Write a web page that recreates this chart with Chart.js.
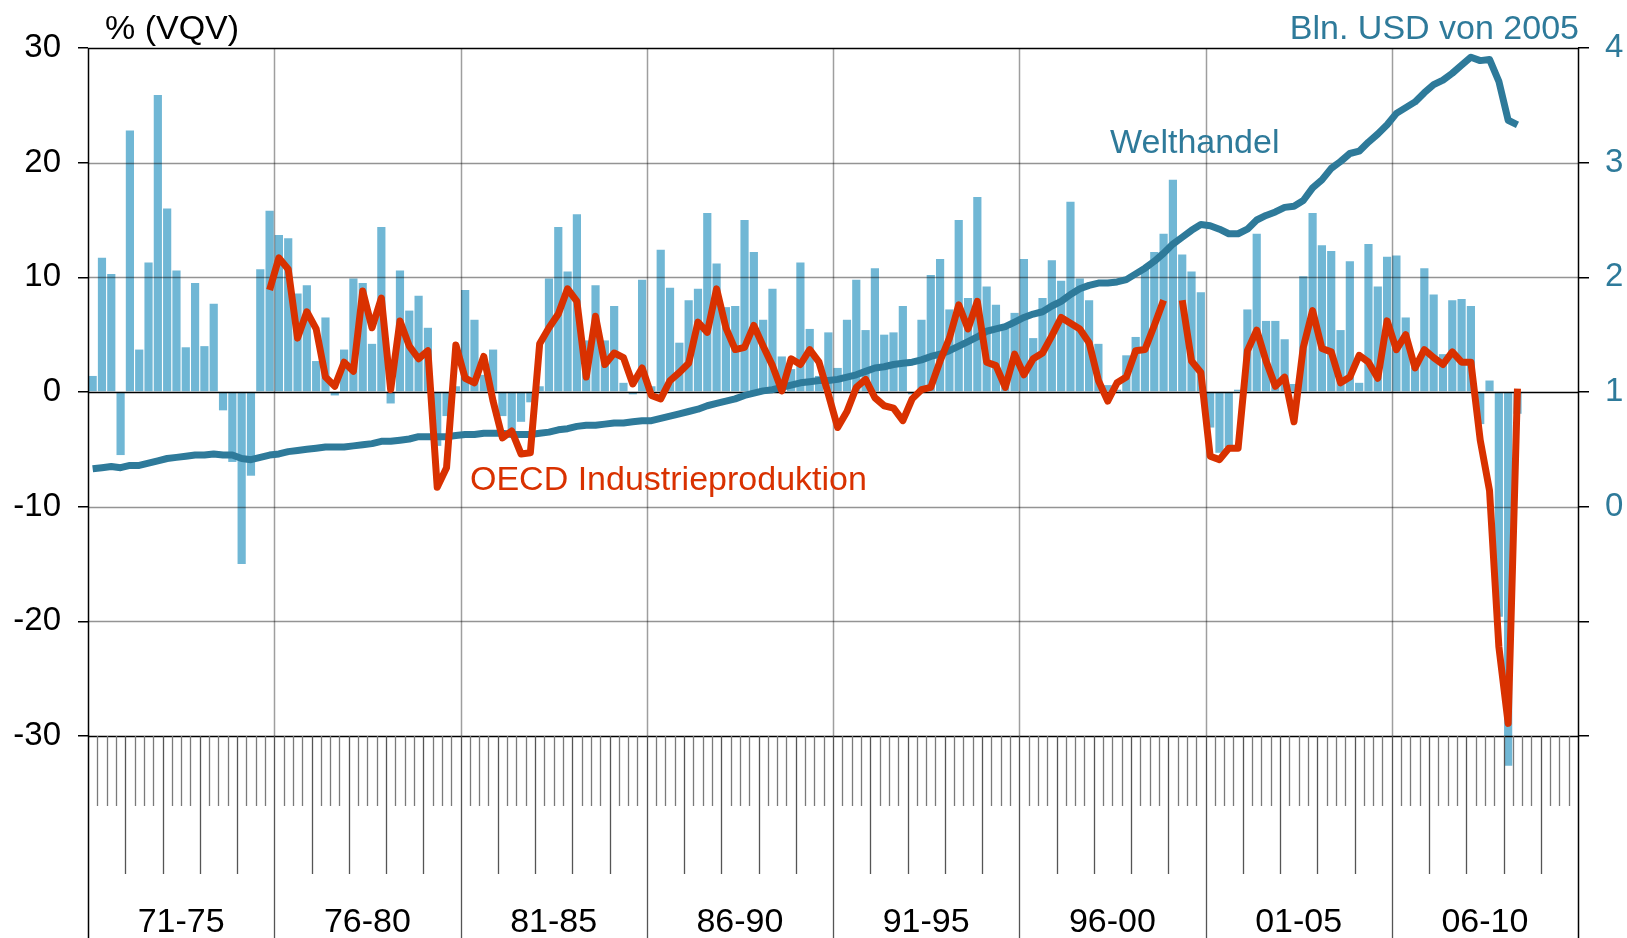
<!DOCTYPE html>
<html>
<head>
<meta charset="utf-8">
<script src="https://cdn.jsdelivr.net/npm/chart.js@4.4.1/dist/chart.umd.min.js"></script>
<style>
  html, body { margin: 0; padding: 0; background: #fff; }
  #wrap { width: 1627px; height: 938px; }
</style>
</head>
<body>
<div id="wrap"><canvas id="chart" width="1627" height="938"></canvas></div>
<script>
// Zeitraum-Beschriftung (je 5 Jahre = 20 Quartale)
const periodLabels = ["71-75", "76-80", "81-85", "86-90", "91-95", "96-00", "01-05", "06-10"];
const firstYear = 1971;
const yTicks = [30, 20, 10, 0, -10, -20, -30];

// Welthandel, % VQV (Balken)
const welthandelVqv = [
  1.4, 11.7, 10.3, -5.5, 22.8, 3.7, 11.3, 25.9, 16.0, 10.6, 3.9, 9.5, 4.0, 7.7, -1.6, -6.1, -15.0, -7.3, 10.7, 15.8,
  13.7, 13.4, 8.6, 9.3, 2.7, 6.5, -0.3, 3.7, 9.9, 9.5, 4.2, 14.4, -1.0, 10.6, 7.1, 8.4, 5.6, -4.7, -2.1, 0.5,
  8.9, 6.3, 1.5, 3.7, -2.1, -3.6, -2.6, -0.9, 0.5, 9.9, 14.4, 10.5, 15.5, 4.5, 9.3, 4.5, 7.5, 0.8, -0.2, 9.8,
  0.5, 12.4, 9.1, 4.3, 8.0, 9.0, 15.6, 11.2, 7.4, 7.5, 15.0, 12.2, 6.3, 9.0, 3.1, 2.0, 11.3, 5.5, 1.4, 5.2,
  2.1, 6.3, 9.8, 5.4, 10.8, 5.0, 5.2, 7.5, -0.2, 6.3, 10.2, 11.6, 7.2, 15.0, 8.2, 17.0, 9.2, 7.6, 5.5, 6.9,
  11.6, 4.7, 8.2, 11.5, 9.7, 16.6, 9.9, 8.0, 4.2, 0.6, 0.2, 3.2, 4.8, 10.9, 12.2, 13.8, 18.5, 12.0, 10.5, 8.7,
  -3.1, -5.3, -4.8, 0.2, 7.2, 13.8, 6.2, 6.2, 4.6, 0.7, 10.1, 15.6, 12.8, 12.3, 5.4, 11.4, 0.8, 12.9, 9.2, 11.8,
  11.9, 6.5, 2.7, 10.8, 8.5, 3.3, 8.0, 8.1, 7.5, -2.8, 1.0, -19.6, -32.6, -1.9
];

// OECD Industrieproduktion, % VQV
const oecdProduktion = [
  null, null, null, null, null, null, null, null, null, null, null, null, null, null, null, null, null, null, null, 8.9,
  11.7, 10.7, 4.7, 7.0, 5.5, 1.3, 0.5, 2.6, 1.8, 8.8, 5.6, 8.2, 0.2, 6.2, 4.0, 2.9, 3.6, -8.3, -6.6, 4.1,
  1.2, 0.8, 3.1, -0.8, -4.0, -3.4, -5.4, -5.3, 4.2, 5.6, 6.8, 9.0, 7.9, 1.3, 6.6, 2.4, 3.4, 3.0, 0.7, 2.1,
  -0.3, -0.6, 1.0, 1.7, 2.5, 6.1, 5.2, 9.0, 5.6, 3.7, 3.9, 5.8, 4.0, 2.3, 0.1, 2.9, 2.4, 3.7, 2.6, -0.2,
  -3.1, -1.7, 0.4, 1.1, -0.5, -1.2, -1.4, -2.5, -0.6, 0.2, 0.4, 2.7, 4.7, 7.6, 5.5, 7.9, 2.6, 2.3, 0.4, 3.3,
  1.5, 2.9, 3.4, 4.9, 6.5, 6.0, 5.5, 4.3, 1.0, -0.8, 0.8, 1.3, 3.6, 3.7, 5.8, 8.0, null, 8.0, 2.7, 1.7,
  -5.6, -5.9, -4.9, -4.9, 3.6, 5.4, 2.7, 0.5, 1.3, -2.6, 3.9, 7.1, 3.8, 3.5, 0.8, 1.3, 3.2, 2.6, 1.2, 6.2,
  3.7, 5.0, 2.1, 3.7, 3.0, 2.4, 3.5, 2.6, 2.6, -4.2, -8.6, -22.2, -28.9, 0.3
];

// Welthandel, Bln. USD von 2005 (rechte Achse)
const welthandel = [
  0.33, 0.34, 0.35, 0.34, 0.36, 0.36, 0.38, 0.40, 0.42, 0.43, 0.44, 0.45, 0.45, 0.46, 0.45, 0.45, 0.42, 0.41, 0.43, 0.45,
  0.46, 0.48, 0.49, 0.50, 0.51, 0.52, 0.52, 0.52, 0.53, 0.54, 0.55, 0.57, 0.57, 0.58, 0.59, 0.61, 0.61, 0.61, 0.61, 0.62,
  0.63, 0.63, 0.64, 0.64, 0.64, 0.63, 0.63, 0.63, 0.64, 0.65, 0.67, 0.68, 0.70, 0.71, 0.71, 0.72, 0.73, 0.73, 0.74, 0.75,
  0.75, 0.77, 0.79, 0.81, 0.83, 0.85, 0.88, 0.90, 0.92, 0.94, 0.97, 0.99, 1.01, 1.02, 1.04, 1.06, 1.08, 1.09, 1.10, 1.10,
  1.11, 1.13, 1.15, 1.18, 1.21, 1.22, 1.24, 1.25, 1.26, 1.28, 1.31, 1.33, 1.36, 1.40, 1.44, 1.48, 1.53, 1.55, 1.57, 1.61,
  1.65, 1.68, 1.70, 1.75, 1.79, 1.85, 1.90, 1.93, 1.95, 1.95, 1.96, 1.98, 2.03, 2.08, 2.14, 2.21, 2.29, 2.35, 2.41, 2.46,
  2.45, 2.42, 2.38, 2.38, 2.42, 2.50, 2.54, 2.57, 2.61, 2.62, 2.67, 2.78, 2.85, 2.95, 3.01, 3.08, 3.10, 3.18, 3.25, 3.33,
  3.43, 3.48, 3.53, 3.61, 3.68, 3.72, 3.78, 3.85, 3.92, 3.89, 3.90, 3.71, 3.37, 3.33
];

const FONT = "'Liberation Sans', Arial, sans-serif";
const RED = "#d93100";
const TEAL = "#2e7a9a";
const BAR = "#70b7d5";

// Quartals-Kategorien 1971 Q1 .. 2010 Q4
const quarters = [];
for (let y = 0; y < periodLabels.length * 5; y++) {
  for (let q = 1; q <= 4; q++) quarters.push(firstYear + y + " Q" + q);
}

// Gitter zwischen Balken und Linien, Achsen und Tick-Bereich unten
const framePlugin = {
  id: "frame",
  afterDatasetDraw(chart, args) {
    if (args.index !== 0) return;
    const { ctx, chartArea: a, scales } = chart;
    const x = scales.x, y = scales.y;
    const slot = x.getPixelForValue(1) - x.getPixelForValue(0);
    ctx.save();
    ctx.lineWidth = 1.5;
    yTicks.forEach((v) => {
      const py = Math.round(y.getPixelForValue(v)) + 0.5;
      ctx.strokeStyle = v === 0 || v === 30 || v === -30 ? "#000" : "rgba(0,0,0,0.42)";
      ctx.beginPath();
      ctx.moveTo(a.left, py);
      ctx.lineTo(a.right, py);
      ctx.stroke();
    });
    ctx.strokeStyle = "rgba(0,0,0,0.38)";
    for (let i = 20; i < quarters.length; i += 20) {
      const px = Math.round(x.getPixelForValue(i) - slot / 2) + 0.5;
      ctx.beginPath();
      ctx.moveTo(px, a.top);
      ctx.lineTo(px, a.bottom);
      ctx.stroke();
    }
    ctx.restore();
  },
  afterDraw(chart) {
    const { ctx, chartArea: a, scales } = chart;
    const x = scales.x;
    const slot = x.getPixelForValue(1) - x.getPixelForValue(0);
    const H = chart.height;
    ctx.save();
    for (let i = 1; i < quarters.length; i++) {
      const px = Math.round(x.getPixelForValue(i) - slot / 2) + 0.5;
      let len = 70, col = "#7a7a7a";
      if (i % 20 === 0) { len = H - a.bottom; col = "#555"; }
      else if (i % 4 === 0) { len = 138; col = "#555"; }
      ctx.strokeStyle = col;
      ctx.lineWidth = 1.3;
      ctx.beginPath();
      ctx.moveTo(px, a.bottom);
      ctx.lineTo(px, a.bottom + len);
      ctx.stroke();
    }
    // Achsenlinien links/rechts bis zum unteren Rand
    ctx.strokeStyle = "#000";
    ctx.lineWidth = 1.5;
    [a.left, a.right].forEach((px) => {
      ctx.beginPath();
      ctx.moveTo(Math.round(px) + 0.5, a.top);
      ctx.lineTo(Math.round(px) + 0.5, H);
      ctx.stroke();
    });
    // Beschriftungen
    ctx.font = "34px " + FONT;
    ctx.textBaseline = "alphabetic";
    ctx.fillStyle = "#000";
    ctx.textAlign = "left";
    ctx.fillText("% (VQV)", 105, 39);
    ctx.fillStyle = TEAL;
    ctx.textAlign = "right";
    ctx.fillText("Bln. USD von 2005", 1579, 39);
    ctx.textAlign = "left";
    ctx.fillText("Welthandel", 1110, 153);
    ctx.fillStyle = RED;
    ctx.fillText("OECD Industrieproduktion", 470, 490);
    ctx.restore();
  },
};

const ctx = document.getElementById("chart").getContext("2d");
const chart = new Chart(ctx, {
  type: "bar",
  data: {
    labels: quarters,
    datasets: [
      {
        type: "bar",
        label: "Welthandel % VQV",
        data: welthandelVqv,
        backgroundColor: BAR,
        borderWidth: 0,
        barPercentage: 0.88,
        categoryPercentage: 1.0,
        yAxisID: "y",
        clip: false,
        order: 3,
      },
      {
        type: "line",
        label: "Welthandel",
        data: welthandel,
        borderColor: TEAL,
        borderWidth: 7,
        pointRadius: 0,
        tension: 0,
        borderJoinStyle: "round",
        yAxisID: "y1",
        order: 2,
      },
      {
        type: "line",
        label: "OECD Industrieproduktion",
        data: oecdProduktion,
        borderColor: RED,
        borderWidth: 7,
        pointRadius: 0,
        tension: 0,
        spanGaps: false,
        borderJoinStyle: "round",
        yAxisID: "y",
        order: 1,
      },
    ],
  },
  options: {
    responsive: false,
    animation: false,
    events: [],
    layout: { padding: { top: 48, left: 0, right: 0, bottom: 0 } },
    plugins: {
      legend: { display: false },
      tooltip: { enabled: false },
    },
    scales: {
      x: {
        type: "category",
        offset: true,
        // unsichtbare Tick-Striche schieben die Zeitraum-Labels nach unten
        grid: { display: true, drawOnChartArea: false, drawTicks: true, tickLength: 166, color: "rgba(0,0,0,0)" },
        border: { display: false },
        ticks: {
          autoSkip: false,
          maxRotation: 0,
          minRotation: 0,
          padding: 0,
          labelOffset: -4.66,
          color: "#000",
          font: { family: FONT, size: 34 },
          callback: function (value, index) {
            return index % 20 === 10 ? periodLabels[Math.floor(index / 20)] : "";
          },
        },
        afterFit: function (scale) {
          scale.height = 202;
        },
      },
      y: {
        position: "left",
        min: -30,
        max: 30,
        border: { display: false },
        grid: { drawOnChartArea: false, drawTicks: true, tickLength: 10, color: "#000", lineWidth: 1.5 },
        ticks: {
          stepSize: 10,
          padding: 17,
          color: "#000",
          font: { family: FONT, size: 33 },
        },
        afterFit: function (scale) {
          scale.width = 88;
        },
      },
      y1: {
        position: "right",
        min: -2,
        max: 4,
        border: { display: false },
        grid: { drawOnChartArea: false, drawTicks: true, tickLength: 11, color: "#000", lineWidth: 1.5 },
        ticks: {
          stepSize: 1,
          padding: 16,
          color: TEAL,
          font: { family: FONT, size: 33 },
          callback: function (value) {
            return value >= 0 ? value : "";
          },
        },
        afterFit: function (scale) {
          scale.width = 49;
        },
      },
    },
  },
  plugins: [framePlugin],
});
</script>
</body>
</html>
